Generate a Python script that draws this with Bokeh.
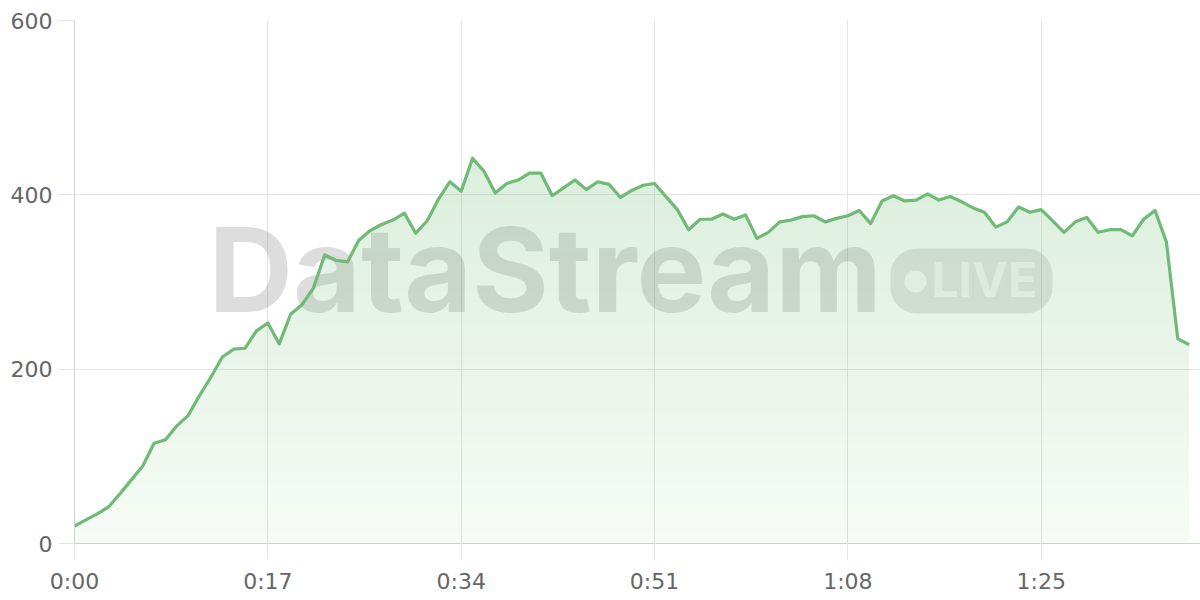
import numpy as np
from bokeh.plotting import figure
from bokeh.models import Range1d, FixedTicker, Label, BoxAnnotation
from bokeh.embed import file_html
from bokeh.resources import INLINE

# ---- data (one sample per second) ----
seconds = list(range(99))
values = [
    20, 27, 34, 42, 57, 73, 89, 115, 119, 135,
    147, 170, 191, 214, 223, 224, 244, 253, 229, 263,
    274, 293, 331, 325, 323, 348, 359, 366, 371, 379,
    356, 370, 395, 415, 404, 442, 427, 402, 413, 417,
    425, 425, 399, 408, 417, 406, 415, 412, 397, 405,
    411, 413, 398, 383, 360, 372, 372, 378, 372, 377,
    350, 357, 369, 371, 375, 376, 369, 373, 376, 382,
    367, 393, 399, 393, 394, 401, 394, 398, 392, 385,
    380, 363, 369, 386, 380, 383, 370, 357, 369, 374,
    357, 360, 360, 353, 372, 382, 346, 235, 228,
]
x_ticks = [0, 17, 34, 51, 68, 85]
x_tick_labels = ["0:00", "0:17", "0:34", "0:51", "1:08", "1:25"]
y_ticks = [0, 200, 400, 600]

GREEN = "#6fbb75"

p = figure(width=1200, height=600, output_backend="svg", toolbar_location=None,
           x_range=Range1d(0, 99), y_range=Range1d(0, 600),
           min_border_left=74, min_border_right=0, min_border_top=20, min_border_bottom=57)
p.outline_line_color = None
p.background_fill_color = "white"
p.border_fill_color = "white"

# ---- watermark (drawn beneath the data) ----
def sx(px):
    return (px - 74) / 11.374

def sy(py):
    return (543 - py) / 0.8717

p.add_layout(Label(x=sx(208), y=sy(269), text="DataStream", text_font="Inter",
                   text_font_style="bold", text_font_size="117px", text_color="black",
                   text_alpha=0.135, text_align="left", text_baseline="alphabetic",
                   level="underlay"))
p.add_layout(BoxAnnotation(left=sx(890), right=sx(1052), top=sy(248), bottom=sy(313),
                           fill_color="black", fill_alpha=0.1, line_color=None,
                           border_radius=26, level="underlay"))
p.add_layout(BoxAnnotation(left=sx(904), right=sx(926), top=sy(270), bottom=sy(292),
                           fill_color="white", fill_alpha=0.8, line_color=None,
                           border_radius=11, level="underlay"))
p.add_layout(Label(x=sx(931), y=sy(279), text="LIVE", text_font="Inter",
                   text_font_style="bold", text_font_size="48px", text_color="white",
                   text_alpha=0.72, text_align="left", text_baseline="alphabetic",
                   level="underlay"))

# ---- vertical-gradient area fill: horizontal bands 10px tall ----
vals = np.array(values, dtype=float)
xs = np.array(seconds, dtype=float)
band = 10 / 0.8717
levels = np.arange(47) * band

# add the points where the polyline crosses each band edge, so that clipped
# bands follow the drawn line exactly (the polyline itself is unchanged)
extra = []
for i in range(len(xs) - 1):
    y0, y1 = vals[i], vals[i + 1]
    if y0 == y1:
        continue
    lo_, hi_ = min(y0, y1), max(y0, y1)
    for L in levels[(levels > lo_) & (levels < hi_)]:
        extra.append(xs[i] + (L - y0) / (y1 - y0))
xd = np.unique(np.concatenate([xs, np.array(extra)]))
yd = np.interp(xd, xs, vals)

for k in range(46):
    lo = levels[k]
    hi = levels[k + 1]
    mid = (lo + hi) / 2
    a = min(0.06 + 0.19 * mid / 440, 0.26)
    p.varea(x=xd, y1=np.full_like(yd, lo), y2=np.clip(yd, lo, hi),
            fill_color=GREEN, fill_alpha=a)

p.line(xs, vals, line_color=GREEN, line_width=3.2, line_join="round")

# ---- axes and grid ----
p.xaxis.ticker = FixedTicker(ticks=x_ticks)
p.xaxis.major_label_overrides = {t: l for t, l in zip(x_ticks, x_tick_labels)}
p.yaxis.ticker = FixedTicker(ticks=y_ticks)
p.xgrid.ticker = FixedTicker(ticks=x_ticks)
p.ygrid.ticker = FixedTicker(ticks=y_ticks)
for g in (p.xgrid, p.ygrid):
    g.grid_line_color = "#e4e4e4"
    g.grid_line_width = 1
for ax in (p.xaxis, p.yaxis):
    ax.axis_line_color = "#d0d0d0"
    ax.axis_line_width = 1
    ax.major_tick_line_color = "#e4e4e4"
    ax.major_tick_in = 0
    ax.major_tick_out = 16
    ax.minor_tick_line_color = None
    ax.major_label_text_color = "#666666"
    ax.major_label_text_font = "DejaVu Sans"
    ax.major_label_text_font_size = "22px"
p.yaxis.major_label_standoff = 6
p.xaxis.major_label_standoff = 9

open("out.html", "w").write(file_html(p, INLINE))
